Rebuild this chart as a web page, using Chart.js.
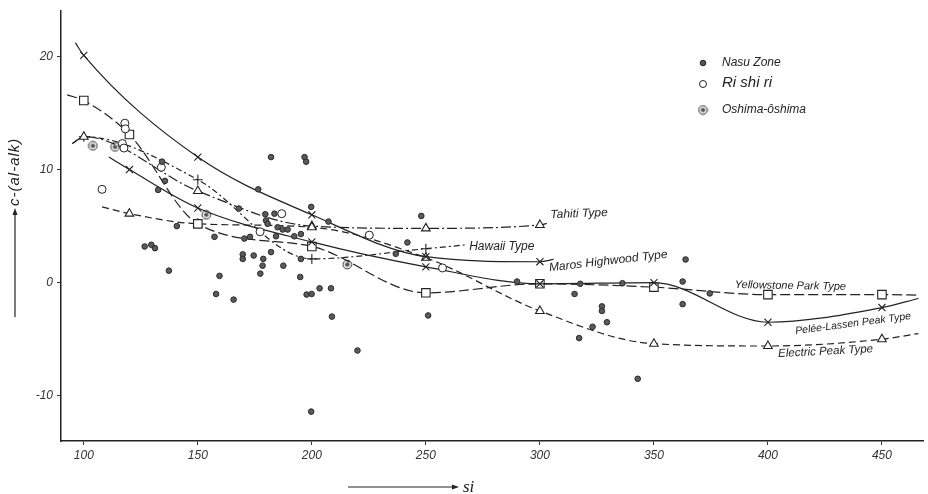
<!DOCTYPE html>
<html>
<head>
<meta charset="utf-8">
<script src="https://cdn.jsdelivr.net/npm/chart.js@4.4.0/dist/chart.umd.min.js"></script>
<style>
  body { margin: 0; background: #fff; }
  canvas { display: block; }
</style>
</head>
<body>
<canvas id="siChart" width="928" height="494"></canvas>
<script>
// tick labels
const siTicks = [100, 150, 200, 250, 300, 350, 400, 450];
const valTicks = [-10, 0, 10, 20];

// Nasu Zone (filled dots)
const nasuSi = [134.3, 135.6, 132.6, 182.1, 196.8, 197.5, 176.5, 168, 207.3, 199.7,
    179.6, 183.6, 179.9, 180.6, 185, 187.2, 189.4, 192.3, 195.2, 184.3,
    140.8, 157.3, 170.4, 172.9, 126.7, 129.6, 131.2, 137.3, 169.7, 169.7,
    174.5, 182.1, 178.7, 178.4, 177.4, 187.5, 195.2, 194.9, 159.5, 158,
    165.7, 197.7, 199.9, 203.4, 208.4, 208.8, 220, 199.7, 248, 241.9,
    236.8, 251, 290, 317.7, 315.2, 336.2, 327.2, 327.2, 329.4, 323.1,
    317.2, 342.9, 363.9, 362.6, 362.6, 374.5];
const nasuVal = [10.7, 9.0, 8.2, 11.1, 11.1, 10.7, 8.25, 6.55, 5.4, 6.7,
    6.05, 6.1, 5.5, 5.2, 4.9, 4.7, 4.7, 4.1, 4.3, 4.1,
    5.0, 4.05, 3.9, 4.05, 3.2, 3.35, 3.05, 1.06, 2.5, 2.1,
    2.4, 2.7, 2.1, 1.5, 0.8, 1.5, 2.1, 0.5, 0.6, -1.0,
    -1.5, -1.05, -1.0, -0.5, -0.5, -3.0, -6.0, -11.4, 5.9, 3.55,
    2.55, -2.9, 0.1, -0.1, -1.0, -0.05, -2.1, -2.5, -3.5, -3.9,
    -4.9, -8.5, 2.05, 0.1, -1.9, -0.95];

// Rishiri (open circles)
const rishiriSi = [108, 116.9, 117.6, 118, 118.2, 134, 186.8, 177.3, 225.2, 257.3];
const rishiriVal = [8.25, 12.3, 11.9, 14.1, 13.6, 10.2, 6.1, 4.5, 4.2, 1.3];

// Oshima-oshima (ringed dots)
const oshimaSi = [104, 113.7, 153.7, 215.5];
const oshimaVal = [12.1, 12.0, 6.0, 1.6];

// reference types (curves)
const marosSi = [96.3, 100, 150, 200, 250, 300, 306];
const marosVal = [21.2, 20.1, 11.1, 6.0, 2.3, 1.85, 2.05];

const peleeSi = [111, 120, 150, 200, 250, 300, 350, 400, 450, 466];
const peleeVal = [11.1, 10.0, 6.6, 3.6, 1.4, -0.1, 0.0, -3.5, -2.2, -1.4];

const yellowSi = [92.7, 100, 120, 150, 200, 250, 300, 350, 400, 450, 466];
const yellowVal = [16.6, 16.1, 13.1, 5.2, 3.2, -0.9, -0.1, -0.4, -1.06, -1.06, -1.1];

const electricSi = [108, 120, 150, 200, 250, 300, 350, 400, 450, 466];
const electricVal = [6.7, 6.1, 5.2, 4.9, 2.2, -2.5, -5.4, -5.6, -5.0, -4.5];

const tahitiSi = [95, 100, 150, 200, 250, 300, 304];
const tahitiVal = [12.3, 12.9, 8.1, 5.0, 4.8, 5.1, 5.3];

const hawaiiSi = [95, 100, 150, 200, 250, 268];
const hawaiiVal = [12.3, 12.9, 9.1, 2.1, 3.0, 3.35];

function pts(xs, ys) {
    return xs.map((x, i) => ({ x: x, y: ys[i] }));
}

const ink = '#222';

// ring-with-dot marker
const ring = document.createElement('canvas');
ring.width = 11; ring.height = 11;
(function() {
    const c = ring.getContext('2d');
    c.strokeStyle = ink; c.lineWidth = 1;
    c.beginPath(); c.arc(5.5, 5.5, 4.3, 0, Math.PI * 2); c.stroke();
    c.fillStyle = '#555';
    c.beginPath(); c.arc(5.5, 5.5, 2.3, 0, Math.PI * 2); c.fill();
})();

function curve(xs, ys, style, size, dash) {
    return {
        data: pts(xs, ys),
        showLine: true,
        borderColor: ink,
        borderWidth: 1.2,
        borderDash: dash,
        cubicInterpolationMode: 'monotone',
        pointStyle: style,
        pointRadius: ctx => (ctx.raw && ctx.raw.x % 10 === 0 ? size : 0),
        pointBorderColor: ink,
        pointBackgroundColor: '#fff',
        pointBorderWidth: 1.1
    };
}

const annotate = {
    id: 'annotate',
    afterDraw(chart) {
        const { ctx } = chart;
        const x = chart.scales.x, y = chart.scales.y;
        ctx.save();
        ctx.fillStyle = ink;
        ctx.strokeStyle = ink;

        // type names along the curves
        const names = [
            ['Tahiti Type', 304.6, 6.0, -2, 12],
            ['Hawaii Type', 269, 3.2, 0, 12],
            ['Maros Highwood Type', 304, 1.3, -6.5, 12],
            ['Yellowstone Park Type', 385.5, -0.2, 1, 11],
            ['Pelée-Lassen Peak Type', 412, -4.3, -7.5, 10.5],
            ['Electric Peak Type', 404.5, -6.3, -3, 11.5]
        ];
        ctx.textBaseline = 'middle';
        ctx.textAlign = 'left';
        names.forEach(n => {
            ctx.save();
            ctx.translate(x.getPixelForValue(n[1]), y.getPixelForValue(n[2]));
            ctx.rotate(n[3] * Math.PI / 180);
            ctx.font = 'italic ' + n[4] + 'px "Liberation Sans", sans-serif';
            ctx.fillText(n[0], 0, 0);
            ctx.restore();
        });

        // legend
        ctx.fillStyle = '#555';
        ctx.lineWidth = 1;
        ctx.beginPath(); ctx.arc(703, 63, 2.8, 0, Math.PI * 2); ctx.fill(); ctx.stroke();
        ctx.fillStyle = '#fff';
        ctx.beginPath(); ctx.arc(703, 84, 3.5, 0, Math.PI * 2); ctx.fill(); ctx.stroke();
        ctx.drawImage(ring, 697.5, 104.5);
        ctx.fillStyle = ink;
        ctx.font = 'italic 12px "Liberation Sans", sans-serif';
        ctx.fillText('Nasu Zone', 722, 63);
        ctx.font = 'italic 15px "Liberation Sans", sans-serif';
        ctx.fillText('Ri shi ri', 722, 83);
        ctx.font = 'italic 12px "Liberation Sans", sans-serif';
        ctx.fillText('Oshima-ôshima', 722, 110);

        // y axis title with arrow
        ctx.lineWidth = 1.2;
        ctx.beginPath(); ctx.moveTo(15, 317); ctx.lineTo(15, 213); ctx.stroke();
        ctx.beginPath(); ctx.moveTo(15, 208); ctx.lineTo(12.5, 215); ctx.lineTo(17.5, 215); ctx.closePath(); ctx.fill();
        ctx.save();
        ctx.translate(15, 206);
        ctx.rotate(-Math.PI / 2);
        ctx.font = 'italic 15px "Liberation Sans", sans-serif';
        ctx.letterSpacing = '1px';
        ctx.textAlign = 'left';
        ctx.fillText('c-(al-alk)', 0, 0);
        ctx.restore();

        // x axis title with arrow
        ctx.beginPath(); ctx.moveTo(348, 487); ctx.lineTo(453, 487); ctx.stroke();
        ctx.beginPath(); ctx.moveTo(459, 487); ctx.lineTo(452, 484.5); ctx.lineTo(452, 489.5); ctx.closePath(); ctx.fill();
        ctx.font = 'italic 17px "Liberation Serif", serif';
        ctx.textBaseline = 'alphabetic';
        ctx.fillText('si', 463, 492);
        ctx.restore();
    }
};

document.addEventListener('DOMContentLoaded', function() {
    const tickFont = { family: '"Liberation Sans", sans-serif', style: 'italic', size: 12 };

    new Chart(document.getElementById('siChart'), {
        type: 'scatter',
        data: {
            datasets: [
                {
                    data: pts(nasuSi, nasuVal),
                    pointStyle: 'circle',
                    pointRadius: 2.8,
                    pointBackgroundColor: '#5a5a5a',
                    pointBorderColor: '#2a2a2a',
                    pointBorderWidth: 1
                },
                {
                    data: pts(rishiriSi, rishiriVal),
                    pointStyle: 'circle',
                    pointRadius: 4,
                    pointBackgroundColor: '#fff',
                    pointBorderColor: ink,
                    pointBorderWidth: 1
                },
                {
                    data: pts(oshimaSi, oshimaVal),
                    pointStyle: ring
                },
                curve(marosSi, marosVal, 'crossRot', 5, []),
                curve(peleeSi, peleeVal, 'crossRot', 5, []),
                curve(yellowSi, yellowVal, 'rect', 6, [10, 4]),
                curve(electricSi, electricVal, 'triangle', 5, [7, 4]),
                curve(tahitiSi, tahitiVal, 'triangle', 5, [10, 3, 2, 3]),
                curve(hawaiiSi, hawaiiVal, 'cross', 5, [6, 3, 2, 3])
            ]
        },
        options: {
            responsive: false,
            animation: false,
            events: [],
            layout: { padding: { left: 0, right: 3, top: 9, bottom: 0 } },
            plugins: { legend: { display: false }, tooltip: { enabled: false } },
            scales: {
                x: {
                    type: 'linear',
                    min: 90,
                    max: 468,
                    afterBuildTicks: s => { s.ticks = siTicks.map(v => ({ value: v })); },
                    afterFit: s => { s.height = 53; },
                    grid: { display: true, drawOnChartArea: false, drawTicks: true, tickLength: 4, color: '#333' },
                    border: { display: true, color: ink, width: 1.5 },
                    ticks: { color: '#333', font: tickFont, padding: 3, maxRotation: 0 }
                },
                y: {
                    type: 'linear',
                    min: -14,
                    max: 24,
                    afterBuildTicks: s => { s.ticks = valTicks.map(v => ({ value: v })); },
                    afterFit: s => { s.width = 61; },
                    grid: { display: true, drawOnChartArea: false, drawTicks: true, tickLength: 4, color: '#333' },
                    border: { display: true, color: ink, width: 1.5 },
                    ticks: { color: '#333', font: tickFont, padding: 4 }
                }
            }
        },
        plugins: [annotate]
    });
});
</script>
</body>
</html>
